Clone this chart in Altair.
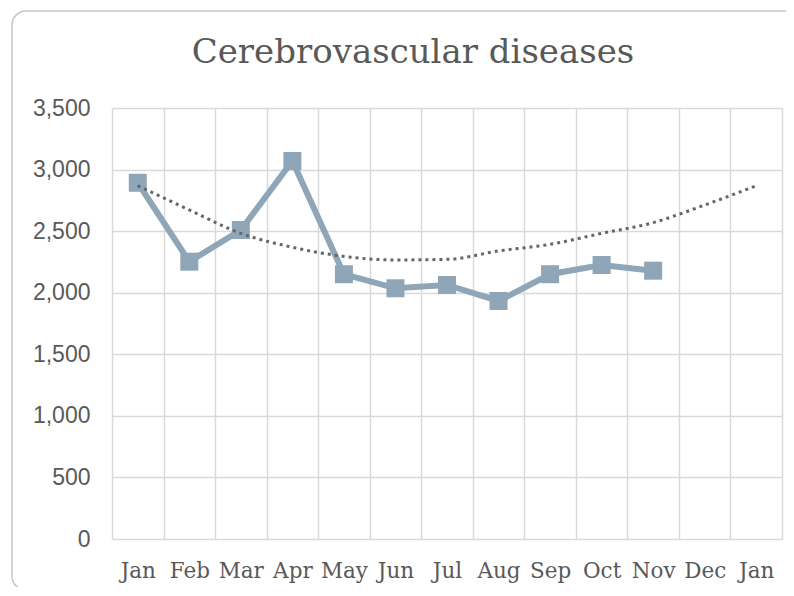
import altair as alt
import pandas as pd

months = ["Jan", "Feb", "Mar", "Apr", "May", "Jun", "Jul", "Aug", "Sep", "Oct", "Nov", "Dec", "Jan"]
deaths = [2893, 2252, 2509, 3070, 2150, 2036, 2063, 1933, 2150, 2225, 2179]
trend = [2869, 2672, 2482, 2369, 2295, 2266, 2271, 2339, 2393, 2482, 2569, 2712, 2869]
y_ticks = [0, 500, 1000, 1500, 2000, 2500, 3000, 3500]

idx = list(range(len(months)))
df = pd.DataFrame({
    "idx": idx,
    "month": months,
    "deaths": deaths + [None] * (len(months) - len(deaths)),
    "trend": trend,
})

label_js = "[" + ",".join("'" + m + "'" for m in months) + "][datum.value]"

GRID = "#d9d9d9"
TXT = "#595959"
LINE = "#8EA6B7"

x_enc = alt.X(
    "idx:O",
    scale=alt.Scale(type="band", domain=idx, paddingInner=0, paddingOuter=0),
    axis=alt.Axis(
        title=None, labelAngle=0, labelExpr=label_js, tickBand="extent",
        grid=True, gridColor=GRID, gridWidth=1.5, ticks=False, domain=False,
        labelFont="DejaVu Serif", labelFontSize=21.5, labelColor=TXT, labelPadding=21,
    ),
)
y_scale = alt.Scale(domain=[0, 3500], nice=False, zero=True)
y_axis = alt.Axis(
    title=None, values=y_ticks, format=",.0f", grid=True, gridColor=GRID, gridWidth=1.5,
    ticks=False, domain=False, labelFont="Liberation Sans", labelFontSize=23,
    labelColor=TXT, labelPadding=22,
)

base = alt.Chart(df)

line = base.mark_line(color=LINE, strokeWidth=6).encode(
    x=x_enc, y=alt.Y("deaths:Q", scale=y_scale, axis=y_axis)
)
pts = base.mark_point(shape="square", filled=True, size=324, color=LINE, opacity=1).encode(
    x="idx:O", y="deaths:Q"
)
tr = base.mark_line(color="#666666", strokeWidth=3, strokeDash=[3, 4], interpolate="monotone").encode(
    x="idx:O", y="trend:Q"
)

frame = alt.Chart(pd.DataFrame({"a": [0]})).mark_rect(
    fill="transparent", stroke="#c6c6c6", strokeWidth=1.5, cornerRadius=14
).encode(
    x=alt.value(-100), x2=alt.value(700), y=alt.value(-97), y2=alt.value(482)
)

chart = alt.layer(frame, line, pts, tr).properties(
    width=670, height=431,
    title=alt.TitleParams(
        text="Cerebrovascular diseases", font="DejaVu Serif", fontSize=34,
        fontWeight="normal", color=TXT, anchor="middle", dx=-34, offset=0,
        baseline="alphabetic", dy=87,
    ),
    autosize=alt.AutoSizeParams(type="none"),
    padding={"left": 104, "top": 100, "right": 4, "bottom": 48},
).configure_view(strokeWidth=0)

chart.save("out.html", embed_options={"renderer": "svg", "actions": False})
